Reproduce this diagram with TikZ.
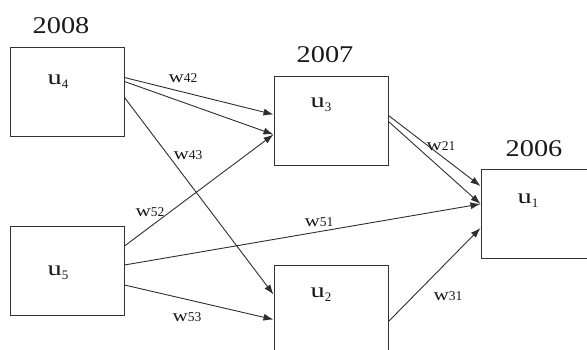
\documentclass[tikz,border=0pt]{standalone}
\usepackage{fontspec}
\setmainfont{Liberation Serif}
\usetikzlibrary{arrows.meta}
% unit label: wide u with a lowered index
\newcommand\unitlbl[1]{\scalebox{1.35}[1]{\fontsize{21}{21}\selectfont u}\raisebox{-4pt}{\fontsize{13}{13}\selectfont #1}}
% weight label: w followed by small digits
\newcommand\wlbl[1]{\scalebox{1.25}[1]{\fontsize{17}{17}\selectfont w}{\fontsize{13.5}{13.5}\selectfont #1}}
\newcommand\yearlbl[1]{\scalebox{1.18}[1]{\fontsize{24}{24}\selectfont #1}}
\begin{document}
\begin{tikzpicture}[x=1pt,y=-1pt,
  box/.style={draw=black!80,line width=1pt,fill=white,inner sep=0pt,
              minimum width=114pt,minimum height=89pt},
  txt/.style={inner sep=0pt,text=black!90},
  arr/.style={draw=black!82,line width=0.9pt,-{Latex[length=10pt,width=7pt]}}]
\useasboundingbox (0,0) rectangle (587,349);
\clip (0,0) rectangle (587,349);

% unit boxes
\node[box] (b4) at (67,91.5) {};
\node[box] (b5) at (67,271) {};
\node[box] (b3) at (331,120.5) {};
\node[box] (b2) at (331,309.5) {};
\node[box] (b1) at (538,214) {};

% names inside the boxes
\node[txt] (t4) at (58,82) {\unitlbl{4}};
\node[txt] (t5) at (58,273) {\unitlbl{5}};
\node[txt] (t3) at (321,105) {\unitlbl{3}};
\node[txt] (t2) at (321,295) {\unitlbl{2}};
\node[txt] (t1) at (528,201) {\unitlbl{1}};

% years above the boxes
\node[txt] (y4) at (61,26) {\yearlbl{2008}};
\node[txt] (y3) at (325,55) {\yearlbl{2007}};
\node[txt] (y1) at (534,149) {\yearlbl{2006}};

% weighted connections
\draw[arr] ([yshift=-31pt]b4.north east) -- ([yshift=-39pt]b3.north west);
\draw[arr] ([yshift=-35pt]b4.north east) -- ([yshift=-59pt]b3.north west);
\draw[arr] ([yshift=-51pt]b4.north east) -- ([yshift=-30pt]b2.north west);
\draw[arr] ([yshift=-20pt]b5.north east) -- ([yshift=-59pt]b3.north west);
\draw[arr] ([yshift=-39pt]b5.north east) -- ([yshift=-35pt]b1.north west);
\draw[arr] ([yshift=-59pt]b5.north east) -- ([yshift=-55pt]b2.north west);
\draw[arr] ([yshift=-40pt]b3.north east) -- ([yshift=-17pt]b1.north west);
\draw[arr] ([yshift=-46pt]b3.north east) -- ([yshift=-35pt]b1.north west);
\draw[arr] ([yshift=-57pt]b2.north east) -- ([yshift=-59pt]b1.north west);

% weight labels
\node[txt] (w42) at (183,78) {\wlbl{42}};
\node[txt] (w43) at (188,155) {\wlbl{43}};
\node[txt] (w52) at (150,212) {\wlbl{52}};
\node[txt] (w51) at (319,222) {\wlbl{51}};
\node[txt] (w53) at (187,317) {\wlbl{53}};
\node[txt] (w21) at (441,146) {\wlbl{21}};
\node[txt] (w31) at (448,296) {\wlbl{31}};
\end{tikzpicture}
\end{document}
